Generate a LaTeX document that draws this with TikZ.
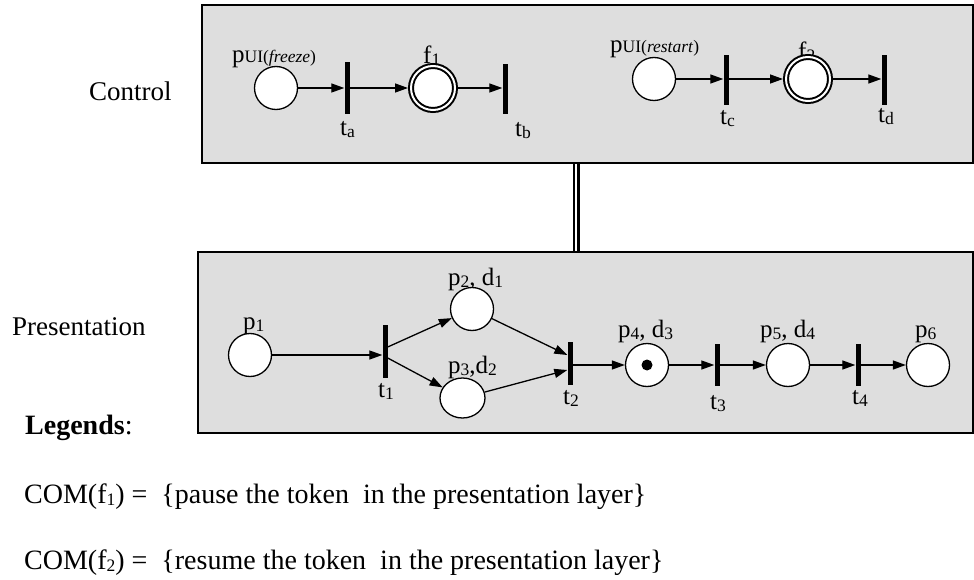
\documentclass[tikz,border=0pt]{standalone}
\usepackage{fontspec}
\setmainfont{Liberation Serif}
\usetikzlibrary{arrows.meta, shapes.geometric}

\newcommand{\sub}[1]{\raisebox{-2pt}{\fontsize{17.5}{20}\selectfont #1}}
\newcommand{\ui}[1]{{\fontsize{17.5}{20}\selectfont UI(\textit{#1})}}

\begin{document}
\begin{tikzpicture}[x=1pt, y=-1pt,
  capa/.style={draw, line width=2pt, fill=black!13},
  lugar/.style={circle, draw, line width=1.3pt, fill=white, minimum size=43pt, inner sep=0pt},
  final/.style={circle, draw, line width=2pt, double=white, double distance=2pt, fill=white,
    minimum size=44pt, inner sep=0pt, outer sep=3pt},
  trans/.style={fill=black, minimum width=5pt, minimum height=#1, inner sep=0pt},
  arco/.style={-{Triangle[length=13pt,width=9pt]}, line width=1.3pt},
  etiq/.style={font=\fontsize{25}{30}\selectfont, inner sep=0pt, anchor=base west},
  texto/.style={font=\fontsize{27}{32}\selectfont, inner sep=0pt, anchor=base west},
  leyenda/.style={font=\fontsize{28}{34}\selectfont, inner sep=0pt, anchor=base west}]
  \useasboundingbox (0,0) rectangle (974,580);

  % Capas
  \node[capa, minimum width=771pt, minimum height=158pt] (ctrl) at (587.5,84) {};
  \node[capa, minimum width=775pt, minimum height=181pt] (pres) at (585.5,342.5) {};
  \coordinate (enlace) at (576,200);
  \draw[line width=2.5pt, double=white, double distance=2pt] (ctrl.south -| enlace) -- (pres.north -| enlace);

  \node[texto] (lctrl) at (89,101) {Control};
  \node[texto] (lpres) at (12,335) {Presentation};

  % Etiquetas
  \node[etiq] (lpfz) at (232,63) {p\ui{freeze}};
  \node[etiq] (lf1) at (423,64) {f\sub{1}};
  \node[etiq] (lta) at (340,136) {t\sub{a}};
  \node[etiq] (ltb) at (515,137) {t\sub{b}};
  \node[etiq] (lprs) at (610,53) {p\ui{restart}};
  \node[etiq] (lf2) at (798,60) {f\sub{2}};
  \node[etiq] (ltc) at (720,125) {t\sub{c}};
  \node[etiq] (ltd) at (878,123) {t\sub{d}};

  \node[etiq] (lp1) at (243,329) {p\sub{1}};
  \node[etiq] (lp2) at (448,285) {p\sub{2}, d\sub{1}};
  \node[etiq] (lp3) at (448,373) {p\sub{3},d\sub{2}};
  \node[etiq] (lt1) at (378,397) {t\sub{1}};
  \node[etiq] (lt2) at (563,404) {t\sub{2}};
  \node[etiq] (lp4) at (618,337) {p\sub{4}, d\sub{3}};
  \node[etiq] (lp5) at (760,337) {p\sub{5}, d\sub{4}};
  \node[etiq] (lp6) at (915,337) {p\sub{6}};
  \node[etiq] (lt3) at (710,409) {t\sub{3}};
  \node[etiq] (lt4) at (852,404) {t\sub{4}};

  % Nodos
  \node[lugar] (pfz) at (276,88) {};
  \node[trans=52pt] (ta) at (347,88) {};
  \node[final] (f1) at (433,88) {};
  \node[trans=50pt] (tb) at (505,89) {};
  \node[lugar] (prs) at (654,79) {};
  \node[trans=50pt] (tc) at (726,80) {};
  \node[final] (f2) at (808,79) {};
  \node[trans=50pt] (td) at (884,80) {};

  \node[lugar] (p1) at (250,355) {};
  \node[trans=53pt] (t1) at (385,351.5) {};
  \node[lugar] (p2) at (472,309) {};
  \node[lugar, ellipse, minimum width=45pt, minimum height=40pt] (p3) at (462.5,398) {};
  \node[trans=43pt] (t2) at (570,363.5) {};
  \node[lugar] (p4) at (647,365) {};
  \node[circle, fill, minimum size=11pt, inner sep=0pt] (tok) at (p4) {};
  \node[trans=42pt] (t3) at (717,365) {};
  \node[lugar] (p5) at (788,365) {};
  \node[trans=42pt] (t4) at (858,365) {};
  \node[lugar] (p6) at (928,365) {};

  % Arcos
  \draw[arco] (pfz) -- (ta);
  \draw[arco] (ta) -- (f1);
  \draw[arco] (f1) -- (f1 -| tb.west);
  \draw[arco] (prs) -- (prs -| tc.west);
  \draw[arco] (tc.east |- f2) -- (f2);
  \draw[arco] (f2) -- (f2 -| td.west);

  \draw[arco] (p1) -- (p1 -| t1.west);
  \draw[arco] ([yshift=4.5pt]t1.east) -- (p2);
  \draw[arco] ([yshift=-6.5pt]t1.east) -- (p3);
  \draw[arco] (p2) -- ([yshift=8.5pt]t2.west);
  \draw[arco] (p3) -- ([yshift=-6.5pt]t2.west);
  \draw[arco] (t2.east |- p4) -- (p4);
  \draw[arco] (p4) -- (t3);
  \draw[arco] (t3) -- (p5);
  \draw[arco] (p5) -- (t4);
  \draw[arco] (t4) -- (p6);

  % Leyenda
  \node[leyenda] (lley) at (25,434) {\textbf{Legends}:};
  \node[leyenda] (com1) at (24,503) {COM(f\sub{1}) =\ \ \{pause the token\ \ in the presentation layer\}};
  \node[leyenda] (com2) at (24,569) {COM(f\sub{2}) =\ \ \{resume the token\ \ in the presentation layer\}};
\end{tikzpicture}
\end{document}
